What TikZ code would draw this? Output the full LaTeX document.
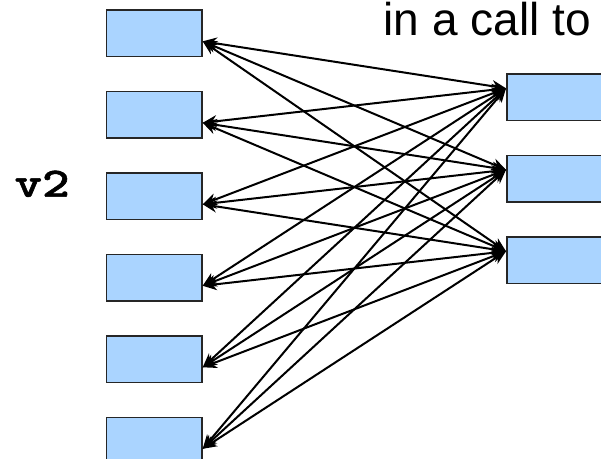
\documentclass[tikz,border=0pt]{standalone}
\usepackage{fontspec}
\setmainfont{Liberation Sans}
\newfontfamily\codefont{lmmonolt10-bold.otf}[FakeBold=1.2]
\usetikzlibrary{arrows.meta, positioning}

\definecolor{slotblue}{HTML}{AAD4FF}
\tikzset{
  slot/.style={draw=black!85, line width=1.5pt, fill=slotblue,
    minimum width=95.5pt, minimum height=46.5pt, inner sep=0pt},
  link/.style={{Stealth[length=14pt,width=12pt]}-{Stealth[length=14pt,width=12pt]},
    line width=2pt},
}

\begin{document}
\begin{tikzpicture}[node distance=33.5pt]
	\useasboundingbox (0,0) rectangle (601pt,458pt);

	% left column
	\node [slot]              (l1) at (154.2pt,424.7pt) {};
	\node [slot, below=of l1] (l2) {};
	\node [slot, below=of l2] (l3) {};
	\node [slot, below=of l3] (l4) {};
	\node [slot, below=of l4] (l5) {};
	\node [slot, below=of l5] (l6) {};

	% right column
	\node [slot]              (r1) at (554.5pt,360.7pt) {};
	\node [slot, below=of r1] (r2) {};
	\node [slot, below=of r2] (r3) {};

	\node [anchor=base west, font=\fontsize{46}{55}\selectfont] (call) at (380pt,422pt) {in a call to};
	\node [anchor=base west] (v2) at (11pt,261.3pt) {\scalebox{1.25}[1]{\codefont\fontsize{42}{48}\selectfont v2}};

	\foreach \l in {1,...,6}
		\foreach \r in {1,2,3}
			\draw[link] ([yshift=-8pt]l\l.east) -- ([yshift=9pt]r\r.west);

\end{tikzpicture}
\end{document}
